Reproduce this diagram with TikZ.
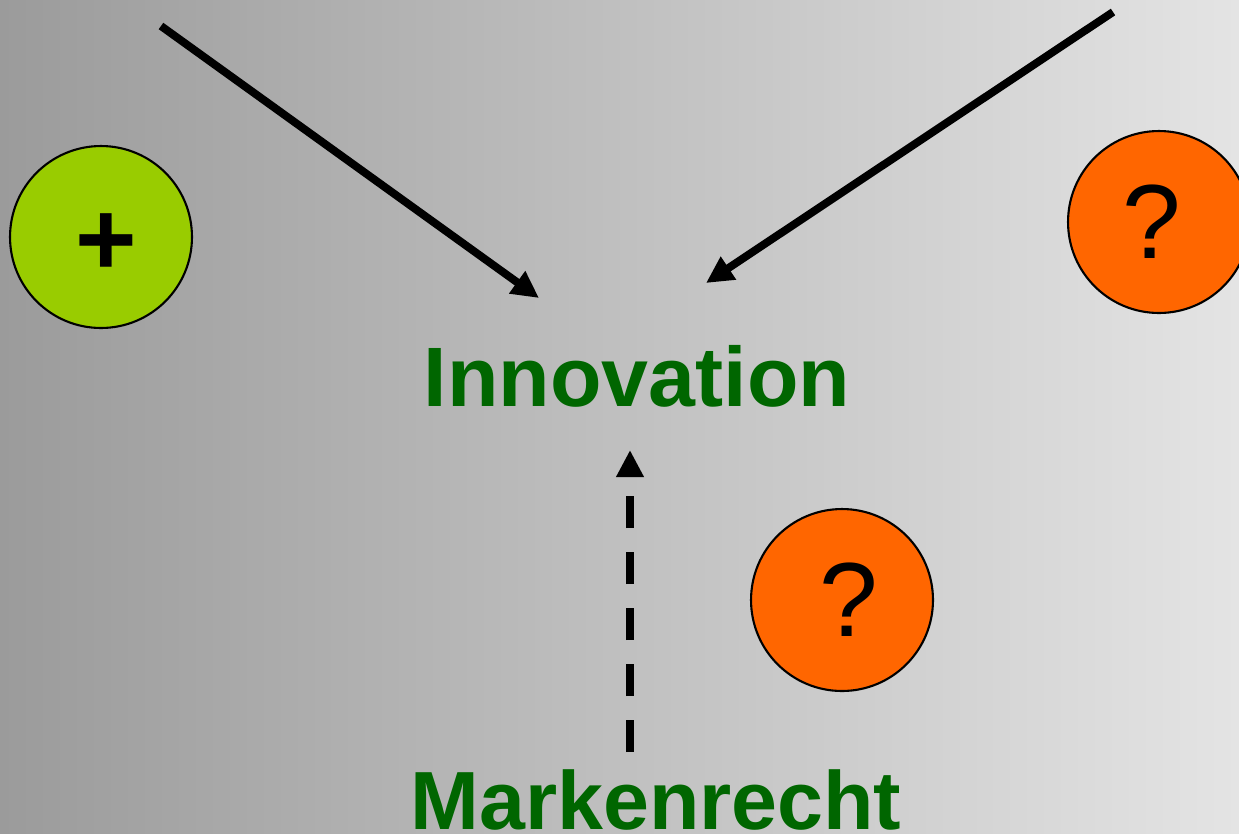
\documentclass[tikz,border=0pt]{standalone}
\usepackage{fontspec}
\setmainfont{Liberation Sans}
\usetikzlibrary{arrows.meta}

\definecolor{markgreen}{RGB}{0,102,0}
\definecolor{plusgreen}{RGB}{153,204,0}
\definecolor{askorange}{RGB}{255,102,0}
\definecolor{bgleft}{RGB}{155,155,155}
\definecolor{bgright}{RGB}{228,228,228}

\tikzset{
  bubble/.style={circle,draw,line width=1.2pt,minimum size=3.64cm,inner sep=0pt},
  sign/.style={inner sep=0pt,font=\fontsize{60}{72}\selectfont},
  word/.style={inner sep=0pt,anchor=base,text=markgreen,
    font=\fontsize{48}{58}\selectfont\bfseries},
  push/.style={line width=4.5pt,-{Triangle[length=0.54cm,width=0.52cm]}}
}

\begin{document}
\begin{tikzpicture}[x=0.02cm,y=-0.02cm]
    \shade [left color=bgleft,right color=bgright] (0,0) rectangle (1239,833);
    \useasboundingbox (0,0) rectangle (1239,833);

    \coordinate (s1) at (161, 26);
    \coordinate (s2) at (1113, 12);
    \coordinate (e1) at (539, 298);
    \coordinate (e2) at (706, 283);
    \coordinate (m0) at (630, 752);
    \coordinate (m1) at (630, 450);

    \node [word] (inno) at (637, 406) {Innovation};
    \node [word,font=\fontsize{47}{56}\selectfont\bfseries] (mark) at (656, 829) {Markenrecht};

    \draw [push] (s1) -- (e1);
    \draw [push] (s2) -- (e2);
    \draw [push,dash pattern=on 0.64cm off 0.48cm] (m0) -- (m1);

    \node [bubble,fill=plusgreen] (plus) at (101, 237) {};
    \node [sign,font=\fontsize{60}{72}\selectfont\bfseries] (plussign) at (106, 245) {+};

    \node [bubble,fill=askorange] (ask1) at (1159, 222) {};
    \node [sign] (asksign1) at (1152, 222) {?};

    \node [bubble,fill=askorange] (ask2) at (842, 600) {};
    \node [sign] (asksign2) at (849, 600) {?};
  \end{tikzpicture}
\end{document}
